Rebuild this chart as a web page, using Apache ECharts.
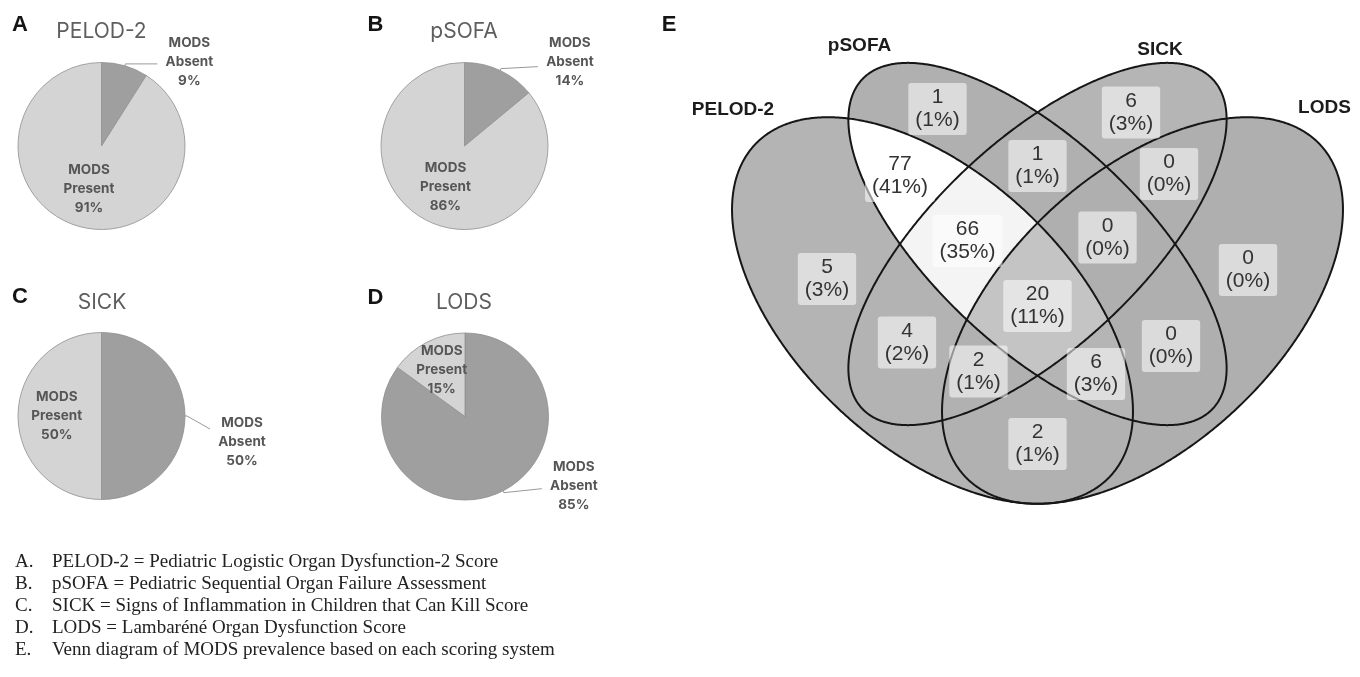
<!DOCTYPE html>
<html><head><meta charset="utf-8">
<script src="https://cdn.jsdelivr.net/npm/echarts@6/dist/echarts.min.js"></script>
<style>html,body{margin:0;padding:0;background:#fff}#main{width:1360px;height:677px}</style>
</head><body><div id="main"></div>
<script>
// ---------------- data ----------------
const pieScores   = ['PELOD-2', 'pSOFA', 'SICK', 'LODS'];
const panelLetters = ['A', 'B', 'C', 'D'];
const sliceNames  = ['MODS Absent', 'MODS Present'];
const absentPct   = [9, 14, 50, 85];
const presentPct  = [91, 86, 50, 15];

const vennSets    = ['PELOD-2', 'pSOFA', 'SICK', 'LODS'];
const vennSetCodes = ['P', 'S', 'K', 'L'];
const vennRegions  = ['S', 'K', 'PS', 'SK', 'KL', 'PSK', 'SKL', 'P', 'L', 'PSKL', 'PK', 'SL', 'PKL', 'PSL', 'PL'];
const vennCounts   = [1, 6, 77, 1, 0, 66, 0, 5, 0, 20, 4, 0, 2, 6, 2];
const vennPercents = [1, 3, 41, 1, 0, 35, 0, 3, 0, 11, 2, 0, 1, 3, 1];

const captionLetters = ['A.', 'B.', 'C.', 'D.', 'E.'];
const captionTexts = [
  'PELOD-2 = Pediatric Logistic Organ Dysfunction-2 Score',
  'pSOFA = Pediatric Sequential Organ Failure Assessment',
  'SICK = Signs of Inflammation in Children that Can Kill Score',
  'LODS = Lambaréné Organ Dysfunction Score',
  'Venn diagram of MODS prevalence based on each scoring system'
];

// ---------------- layout (positions / styles) ----------------
const pieLayout = [
  {center: [101.5, 146], title: [101.5, 32], letter: [20, 25], len2: 32, absentDy: -2, lineDy: 0, presentD: [0, 0]},
  {center: [464.5, 146], title: [464, 32], letter: [375.5, 25], len2: 37, absentDy: -7, lineDy: -2, presentD: [0, 0]},
  {center: [101.5, 416], title: [102, 303], letter: [20, 297], len2: 23, absentDy: 26, lineDy: 13, presentD: [0, 0]},
  {center: [465, 416.5], title: [464, 303], letter: [375.5, 298], len2: 38, absentDy: -7, lineDy: -4, presentD: [-3, -7]}
];
const pieRadius = 83.5;
const pieColors = ['#9f9f9f', '#d4d4d4'];

// Venn geometry in venn units (1 unit = 1 px, y up, origin on the symmetry axis)
const vennEllipses = [
  {cx: -105, cy: -30.5, a: 243,   b: 136,   ang: -43},
  {cx: 0,    cy: 36,    a: 240.5, b: 103.6, ang: -43.2},
  {cx: 0,    cy: 36,    a: 240.5, b: 103.6, ang: 43.2},
  {cx: 105,  cy: -30.5, a: 243,   b: 136,   ang: 43}
];
const vennLabelPos = {
  S: [-100, 171], K: [93.5, 167.5], PS: [-137.5, 104], SK: [0, 114], KL: [131.5, 106],
  PSK: [-70, 39], SKL: [70, 42.5], P: [-210.5, 1], L: [210.5, 10], PSKL: [0, -26],
  PK: [-130.5, -62.5], SL: [133.5, -66], PKL: [-59, -91.5], PSL: [58.5, -94], PL: [0, -164]
};
const vennSetLabelPos = [[-304.5, 170], [-178, 234], [122.5, 230], [287, 172]];

// ---------------- geometry helpers ----------------
function ePoint(e, t) {
  const r = e.ang * Math.PI / 180, c = Math.cos(r), s = Math.sin(r);
  const x = e.a * Math.cos(t), y = e.b * Math.sin(t);
  return [e.cx + x * c - y * s, e.cy + x * s + y * c];
}
function eInside(e, p) {
  const r = e.ang * Math.PI / 180, c = Math.cos(r), s = Math.sin(r);
  const dx = p[0] - e.cx, dy = p[1] - e.cy;
  const u = dx * c + dy * s, w = -dx * s + dy * c;
  return (u * u) / (e.a * e.a) + (w * w) / (e.b * e.b) < 1;
}
const NS = 1440;
function regionPolygon(code) {
  const mask = vennSetCodes.map(c => code.indexOf(c) >= 0);
  const arcs = [];
  vennEllipses.forEach((e, k) => {
    const pts = [], ok = [];
    for (let i = 0; i < NS; i++) {
      const p = ePoint(e, 2 * Math.PI * i / NS);
      pts.push(p);
      ok.push(vennEllipses.every((f, j) => j === k || eInside(f, p) === mask[j]));
    }
    if (ok.every(v => v)) { arcs.push(pts); return; }
    for (let i = 0; i < NS; i++) {
      if (ok[i] && !ok[(i - 1 + NS) % NS]) {
        const run = []; let j = i;
        while (ok[j]) { run.push(pts[j]); j = (j + 1) % NS; if (j === i) break; }
        arcs.push(run);
      }
    }
  });
  if (!arcs.length) return [];
  const d2 = (a, b) => (a[0] - b[0]) ** 2 + (a[1] - b[1]) ** 2;
  let poly = arcs.shift().slice();
  while (arcs.length) {
    const end = poly[poly.length - 1];
    let best = 0, bestD = Infinity, rev = false;
    arcs.forEach((a, i) => {
      const ds = d2(end, a[0]), de = d2(end, a[a.length - 1]);
      if (ds < bestD) { bestD = ds; best = i; rev = false; }
      if (de < bestD) { bestD = de; best = i; rev = true; }
    });
    const a = arcs.splice(best, 1)[0];
    poly = poly.concat(rev ? a.slice().reverse() : a);
  }
  return poly;
}
const regionPolys = vennRegions.map(regionPolygon);
const ellipseOutlines = vennEllipses.map(e => {
  const pts = [];
  for (let i = 0; i < 720; i++) pts.push(ePoint(e, 2 * Math.PI * i / 720));
  return pts;
});

// ---------------- chart ----------------
const chart = echarts.init(document.getElementById('main'), null, {renderer: 'canvas'});

const richLabel = {
  c: {fontFamily: 'Inter', fontSize: 13.5, fontWeight: 'bold', color: '#565656', lineHeight: 19, width: 54, align: 'center'}
};

const pieSeries = pieScores.map((score, i) => {
  const cfg = pieLayout[i];
  return {
    type: 'pie',
    name: score,
    center: cfg.center,
    radius: pieRadius,
    startAngle: 90,
    clockwise: true,
    avoidLabelOverlap: false,
    silent: true,
    itemStyle: {borderColor: '#8f8f8f', borderWidth: 0.8},
    label: {
      formatter: p => '{c|MODS}\n{c|' + p.name.split(' ')[1] + '}\n{c|' + p.value + '%}',
      rich: richLabel
    },
    labelLine: {lineStyle: {color: '#9a9a9a', width: 1}},
    labelLayout: function (p) {
      if (p.dataIndex === 0) {
        const out = {dy: cfg.absentDy};
        const pts = p.labelLinePoints;
        if (pts && pts.length >= 3) {
          out.labelLinePoints = [pts[0], pts[1], [pts[2][0], pts[2][1] + cfg.lineDy]];
        }
        return out;
      }
      return {dx: cfg.presentD[0], dy: cfg.presentD[1]};
    },
    data: [
      {name: sliceNames[0], value: absentPct[i], itemStyle: {color: pieColors[0]},
       label: {position: 'outside', distanceToLabelLine: 5},
       labelLine: {show: true, length: 2, length2: cfg.len2}},
      {name: sliceNames[1], value: presentPct[i], itemStyle: {color: pieColors[1]},
       label: {position: 'inside'}, labelLine: {show: false}}
    ]
  };
});

const regionSeries = {
  type: 'custom',
  coordinateSystem: 'cartesian2d',
  silent: true,
  z: 1,
  data: vennRegions.map((r, i) => [i, vennCounts[i]]),
  encode: {x: 0, y: 1},
  renderItem: function (params, api) {
    const idx = api.value(0);
    const pts = regionPolys[idx].map(p => api.coord(p));
    return {type: 'polygon', shape: {points: pts}, style: {fill: api.visual('color'), stroke: api.visual('color'), lineWidth: 0.5}};
  }
};

const outlineSeries = {
  type: 'custom',
  coordinateSystem: 'cartesian2d',
  silent: true,
  z: 2,
  data: vennSets.map((s, i) => [i, 0]),
  encode: {x: 0, y: 1},
  renderItem: function (params, api) {
    const idx = api.value(0);
    const pts = ellipseOutlines[idx].map(p => api.coord(p));
    return {type: 'polygon', shape: {points: pts}, style: {fill: 'none', stroke: '#161616', lineWidth: 2}};
  }
};

const regionLabelSeries = {
  type: 'scatter',
  silent: true,
  z: 3,
  symbolSize: 1,
  itemStyle: {color: 'rgba(0,0,0,0)'},
  data: vennRegions.map((r, i) => ({value: vennLabelPos[r], count: vennCounts[i], pct: vennPercents[i]})),
  label: {
    show: true,
    opacity: 1,
    position: 'inside',
    formatter: p => p.data.count + '\n(' + p.data.pct + '%)',
    fontFamily: 'Liberation Sans',
    fontSize: 21,
    lineHeight: 23,
    color: '#333',
    backgroundColor: 'rgba(255,255,255,0.55)',
    borderRadius: 3,
    padding: [3, 7, 3, 7]
  }
};

const setLabelSeries = {
  type: 'scatter',
  silent: true,
  z: 3,
  symbolSize: 1,
  itemStyle: {color: 'rgba(0,0,0,0)'},
  data: vennSets.map((s, i) => ({value: vennSetLabelPos[i], name: s})),
  label: {
    show: true,
    opacity: 1,
    position: 'inside',
    formatter: p => p.name,
    fontFamily: 'Liberation Sans',
    fontWeight: 'bold',
    fontSize: 19,
    color: '#1c1c1c'
  }
};

const graphics = [];
panelLetters.forEach((L, i) => graphics.push({
  type: 'text', x: pieLayout[i].letter[0], y: pieLayout[i].letter[1], silent: true,
  style: {text: L, font: 'bold 22px "Liberation Sans"', fill: '#141414', align: 'center', verticalAlign: 'middle'}
}));
graphics.push({
  type: 'text', x: 669, y: 25, silent: true,
  style: {text: 'E', font: 'bold 22px "Liberation Sans"', fill: '#141414', align: 'center', verticalAlign: 'middle'}
});
pieScores.forEach((s, i) => graphics.push({
  type: 'text', x: pieLayout[i].title[0], y: pieLayout[i].title[1], silent: true,
  style: {text: s, font: '21px Inter', fill: '#5e5e5e', align: 'center', verticalAlign: 'middle'}
}));
const captionY = [562, 584, 606, 628, 650];
captionTexts.forEach((t, i) => {
  graphics.push({
    type: 'text', x: 15, y: captionY[i], silent: true,
    style: {text: captionLetters[i], font: '19px "Liberation Serif"', fill: '#222', align: 'left', verticalAlign: 'middle'}
  });
  graphics.push({
    type: 'text', x: 52, y: captionY[i], silent: true,
    style: {text: t, font: '19px "Liberation Serif"', fill: '#222', align: 'left', verticalAlign: 'middle'}
  });
});

chart.setOption({
  animation: false,
  backgroundColor: '#ffffff',
  grid: {left: 700, top: 20, width: 660, height: 500, containLabel: false},
  xAxis: {type: 'value', min: -337.5, max: 322.5, show: false},
  yAxis: {type: 'value', min: -240, max: 260, show: false},
  visualMap: {
    type: 'continuous', show: false, seriesIndex: 4, dimension: 1,
    min: 0, max: 77, inRange: {color: ['#afafaf', '#ffffff']}
  },
  series: pieSeries.concat([regionSeries, outlineSeries, regionLabelSeries, setLabelSeries]),
  graphic: graphics
});
</script>
</body></html>
